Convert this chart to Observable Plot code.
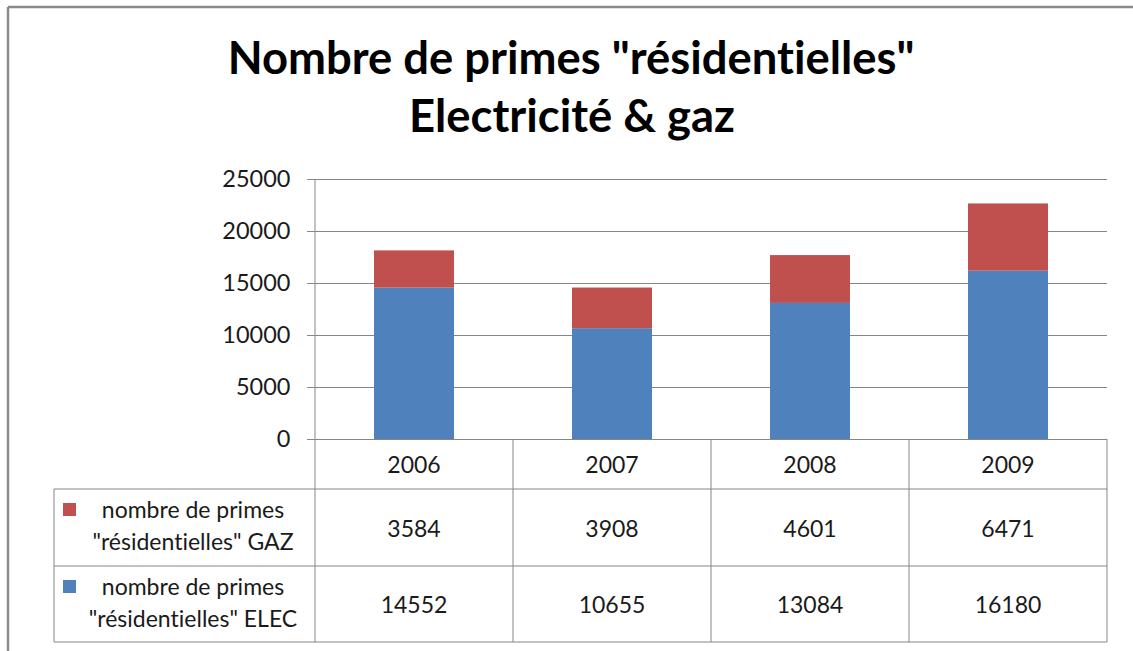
<!DOCTYPE html>
<html>
<head>
<meta charset="utf-8">
<script src="https://cdn.jsdelivr.net/npm/d3@7"></script>
<script src="https://cdn.jsdelivr.net/npm/@observablehq/plot@0.6"></script>
<style>
  html, body { margin: 0; padding: 0; background: #fff; }
  #chart { position: relative; width: 1133px; height: 651px; overflow: hidden; }
  #chart svg text { font-variant-ligatures: none; }
</style>
</head>
<body>
<div id="chart"></div>
<script>
// ---- data ----
const years = ["2006", "2007", "2008", "2009"];
const gazValues = [3584, 3908, 4601, 6471];
const elecValues = [14552, 10655, 13084, 16180];
const seriesKeys = ["ELEC", "GAZ"];
const seriesLabels = {
  GAZ: ["nombre de primes", "\"résidentielles\" GAZ"],
  ELEC: ["nombre de primes", "\"résidentielles\" ELEC"]
};
const seriesColors = ["#4F81BD", "#C0504D"];
const yTicks = [0, 5000, 10000, 15000, 20000, 25000];
const titleLines = ["Nombre de primes \"résidentielles\"", "Electricité & gaz"];

// table built from arrays
const rows = years.flatMap((yr, i) => [
  {year: yr, series: "ELEC", value: elecValues[i]},
  {year: yr, series: "GAZ", value: gazValues[i]}
]);

const FONT = "Lato, 'DejaVu Sans', sans-serif";
const GRID = "#868686";
const TEXT = "#1a1a1a";

const plot = Plot.plot({
  width: 1133,
  height: 651,
  marginTop: 179,
  marginBottom: 212,
  marginLeft: 315,
  marginRight: 26,
  style: {fontFamily: FONT, fontSize: "23px", color: TEXT, background: "#fff", overflow: "visible"},
  x: {domain: years, paddingInner: 0.596, paddingOuter: 0.298, axis: null},
  y: {domain: [0, 25000], axis: null},
  color: {domain: seriesKeys, range: seriesColors},
  marks: [
    Plot.gridY(yTicks, {stroke: GRID, strokeOpacity: 1, strokeWidth: 1}),
    Plot.barY(rows, {x: "year", y: "value", fill: "series"}),
    Plot.axisY({ticks: yTicks, tickSize: 8, tickPadding: 17, tickFormat: d => String(d),
                label: null, stroke: GRID, strokeOpacity: 1, fontSize: 23.5, fill: TEXT})
  ]
});
document.getElementById("chart").appendChild(plot);

// ---- table drawn with the plot's own scales ----
const xs = plot.scale("x");
const ys = plot.scale("y");
const svg = d3.select(plot);
const step = xs.step;
const colCenter = yr => xs.apply(yr) + xs.bandwidth / 2;
const colBounds = years.map(yr => colCenter(yr) - step / 2).concat([colCenter(years[years.length - 1]) + step / 2]);
const axisX = colBounds[0];
const rightX = colBounds[colBounds.length - 1];
const yZero = ys.apply(0);
const rowLines = [yZero, yZero + 50, yZero + 127, yZero + 203];
const tableLeft = 54;

const g = svg.append("g").attr("font-family", FONT).attr("fill", TEXT);
const line = (x1, y1, x2, y2) => g.append("line")
  .attr("x1", x1).attr("y1", y1).attr("x2", x2).attr("y2", y2)
  .attr("stroke", GRID).attr("stroke-width", 1);

// vertical axis line (continues as table divider)
line(axisX, ys.apply(25000), axisX, rowLines[3]);
// column dividers
colBounds.slice(1).forEach(x => line(x, yZero, x, rowLines[3]));
// horizontal table rules
rowLines.slice(1).forEach(y => line(tableLeft, y, rightX, y));
// left border
line(tableLeft, rowLines[1], tableLeft, rowLines[3]);

// year headers
g.selectAll("text.year").data(years).join("text")
  .attr("x", d => colCenter(d)).attr("y", (rowLines[0] + rowLines[1]) / 2)
  .attr("text-anchor", "middle").attr("dominant-baseline", "central")
  .attr("font-size", 23).text(d => d);

// value rows: GAZ then ELEC
const tableRows = [
  {key: "GAZ", values: gazValues, top: rowLines[1], bottom: rowLines[2]},
  {key: "ELEC", values: elecValues, top: rowLines[2], bottom: rowLines[3]}
];
const colorOf = k => seriesColors[seriesKeys.indexOf(k)];
tableRows.forEach(r => {
  const mid = (r.top + r.bottom) / 2;
  g.selectAll(null).data(r.values).join("text")
    .attr("x", (d, i) => colCenter(years[i])).attr("y", mid)
    .attr("text-anchor", "middle").attr("dominant-baseline", "central")
    .attr("font-size", 23).text(d => String(d));
  g.append("rect").attr("x", 63).attr("y", r.top + 14).attr("width", 13).attr("height", 13)
    .attr("fill", colorOf(r.key));
  seriesLabels[r.key].forEach((t, j) => {
    g.append("text").attr("x", 193).attr("y", r.top + 29 + j * 32)
      .attr("text-anchor", "middle").attr("font-size", 23).text(t);
  });
});

// outer frame
svg.append("line").attr("x1", 8).attr("y1", 7).attr("x2", 1133).attr("y2", 7)
  .attr("stroke", "#8a8a8a").attr("stroke-width", 2.5);
svg.append("line").attr("x1", 8).attr("y1", 7).attr("x2", 8).attr("y2", 651)
  .attr("stroke", "#8a8a8a").attr("stroke-width", 2.5);

// title
const titleG = svg.append("g").attr("font-family", FONT).attr("font-weight", "bold").attr("fill", "#000");
const t1 = titleG.append("text").attr("x", 571).attr("y", 74).attr("text-anchor", "middle")
  .attr("font-size", 44).text(titleLines[0]);
const w = t1.node().getComputedTextLength();
const fs = 44 * 687 / w;
t1.attr("font-size", fs);
titleG.append("text").attr("x", 572).attr("y", 132).attr("text-anchor", "middle")
  .attr("font-size", fs).text(titleLines[1]);
</script>
</body>
</html>
